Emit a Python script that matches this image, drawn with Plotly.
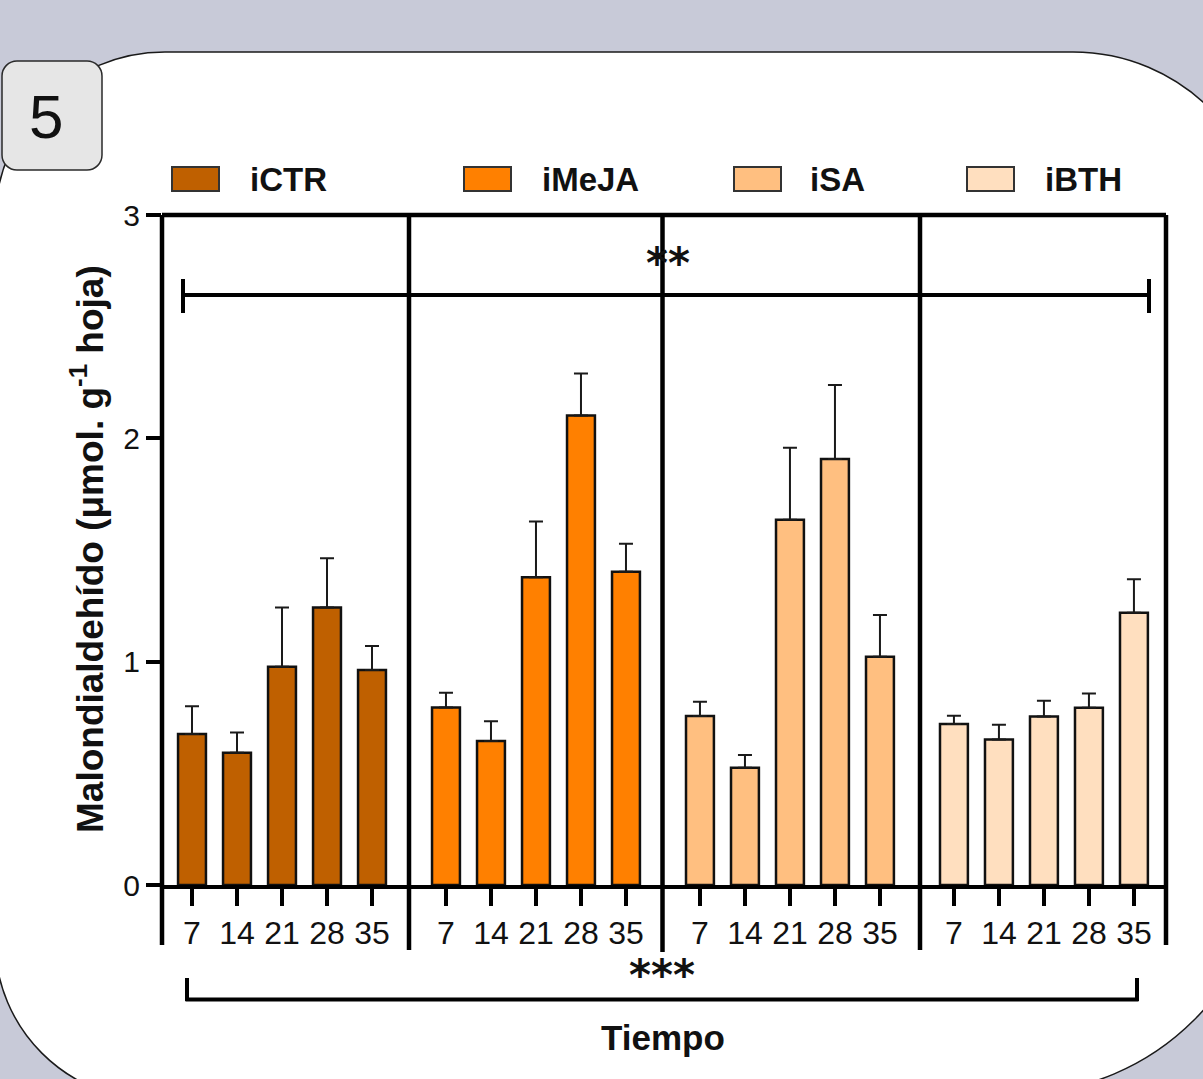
import plotly.graph_objects as go

# ---------------- data ----------------
days = ["7", "14", "21", "28", "35"]
treatments = ["iCTR", "iMeJA", "iSA", "iBTH"]
colors = ["#BF6000", "#FF8000", "#FFBF80", "#FFDFBF"]

mda_ictr = [0.676, 0.592, 0.977, 1.243, 0.963]
mda_imeja = [0.795, 0.645, 1.378, 2.102, 1.403]
mda_isa = [0.757, 0.525, 1.636, 1.907, 1.022]
mda_ibth = [0.721, 0.652, 0.754, 0.794, 1.219]

err_ictr = [0.124, 0.091, 0.266, 0.220, 0.107]
err_imeja = [0.066, 0.088, 0.250, 0.188, 0.125]
err_isa = [0.064, 0.057, 0.322, 0.332, 0.187]
err_ibth = [0.037, 0.066, 0.071, 0.063, 0.150]

means = [mda_ictr, mda_imeja, mda_isa, mda_ibth]
errors = [err_ictr, err_imeja, err_isa, err_ibth]

# ---------------- layout geometry ----------------
W, H = 1203, 1079
ML, MR, MT, MB = 162, 37, 215, 194
PW = W - ML - MR
PH = H - MT - MB
GROUP_STEP = 5.644
X_MIN = -0.6667
X_MAX = X_MIN + PW / 45.0


def px(x):
    return (x - ML) / PW


def py(y):
    return (MT + PH - y) / PH


FONT = "Liberation Sans, Arial, sans-serif"

fig = go.Figure()
all_x, all_text = [], []
for g, (name, col, m, e) in enumerate(zip(treatments, colors, means, errors)):
    xs = [g * GROUP_STEP + i for i in range(len(days))]
    all_x += xs
    all_text += days
    fig.add_trace(go.Bar(
        x=xs, y=m, name=name, width=0.62,
        marker=dict(color=col, line=dict(color="#111111", width=2.5)),
        error_y=dict(type="data", symmetric=False, array=e,
                     arrayminus=[0] * len(e), thickness=2, width=7,
                     color="#1a1a1a"),
        showlegend=False,
    ))

shapes = []

# white rounded panel
k = 0.5523


def P(x, y):
    return f"{px(x):.5f},{py(y):.5f}"


panel = (
    f"M {P(-5, 222)} "
    f"C {P(-5, 222 - k * 170)} {P(165 - k * 170, 52)} {P(165, 52)} "
    f"L {P(1073, 52)} "
    f"C {P(1073 + k * 194, 52)} {P(1267, 246 - k * 194)} {P(1267, 246)} "
    f"L {P(1267, 843.5)} "
    f"C {P(1267, 843.5 + k * 250)} {P(1017 + k * 250, 1093.5)} {P(1017, 1093.5)} "
    f"L {P(155, 1100)} "
    f"C {P(155 - k * 160, 1100)} {P(-5, 940 + k * 160)} {P(-5, 940)} Z"
)
shapes.append(dict(type="path", path=panel, xref="paper", yref="paper",
                   fillcolor="white", line=dict(color="#1a1a1a", width=1.5),
                   layer="below"))

# "5" label box
r = 15
bx0, by0, bx1, by1 = 2, 61, 102, 170
box = (
    f"M {P(bx0, by0 + r)} "
    f"C {P(bx0, by0 + r - k * r)} {P(bx0 + r - k * r, by0)} {P(bx0 + r, by0)} "
    f"L {P(bx1 - r, by0)} "
    f"C {P(bx1 - r + k * r, by0)} {P(bx1, by0 + r - k * r)} {P(bx1, by0 + r)} "
    f"L {P(bx1, by1 - r)} "
    f"C {P(bx1, by1 - r + k * r)} {P(bx1 - r + k * r, by1)} {P(bx1 - r, by1)} "
    f"L {P(bx0 + r, by1)} "
    f"C {P(bx0 + r - k * r, by1)} {P(bx0, by1 - r + k * r)} {P(bx0, by1 - r)} Z"
)
shapes.append(dict(type="path", path=box, xref="paper", yref="paper",
                   fillcolor="#e6e6e6", line=dict(color="#2a2a2a", width=1.5),
                   layer="below"))

LW = 4.5
# top frame line
shapes.append(dict(type="line", xref="paper", yref="paper", x0=0, x1=1,
                   y0=1, y1=1, line=dict(color="black", width=LW)))
# left and right frame lines (extend below the axis)
for xp_, yb in [(ML, 945), (ML + PW, 945)]:
    shapes.append(dict(type="line", xref="paper", yref="paper",
                       x0=px(xp_), x1=px(xp_), y0=1, y1=py(yb),
                       line=dict(color="black", width=LW)))
# group dividers
for xd, yb in [(409, 950), (662.5, 952), (920, 950)]:
    shapes.append(dict(type="line", xref="paper", yref="paper",
                       x0=px(xd), x1=px(xd), y0=1, y1=py(yb),
                       line=dict(color="black", width=LW)))

# top significance bracket
shapes.append(dict(type="line", xref="paper", yref="paper",
                   x0=px(183), x1=px(1149), y0=py(295), y1=py(295),
                   line=dict(color="black", width=4)))
for xb in (183, 1149):
    shapes.append(dict(type="line", xref="paper", yref="paper",
                       x0=px(xb), x1=px(xb), y0=py(279), y1=py(313),
                       line=dict(color="black", width=4)))

# bottom significance bracket
shapes.append(dict(type="line", xref="paper", yref="paper",
                   x0=px(185.5), x1=px(1138.5), y0=py(999.5), y1=py(999.5),
                   line=dict(color="black", width=4)))
for xb in (187, 1137):
    shapes.append(dict(type="line", xref="paper", yref="paper",
                       x0=px(xb), x1=px(xb), y0=py(978), y1=py(1001),
                       line=dict(color="black", width=4)))

# legend swatches
legend_sw = [172, 464, 734, 967]
legend_tx = [248, 540, 808, 1043]
for xs0, col in zip(legend_sw, colors):
    shapes.append(dict(type="rect", xref="paper", yref="paper",
                       x0=px(xs0), x1=px(xs0 + 47), y0=py(167), y1=py(191),
                       fillcolor=col, line=dict(color="#333333", width=2)))

annotations = []
for xt, name in zip(legend_tx, treatments):
    annotations.append(dict(text=f"<b>{name}</b>", x=px(xt), y=py(180),
                            xref="paper", yref="paper", xanchor="left",
                            yanchor="middle", showarrow=False,
                            font=dict(family=FONT, size=33, color="#111111")))

annotations.append(dict(text="5", x=px(46), y=py(117), xref="paper",
                        yref="paper", xanchor="center", yanchor="middle",
                        showarrow=False,
                        font=dict(family=FONT, size=62, color="#111111")))

annotations.append(dict(text="<b>**</b>", x=px(668), y=py(263),
                        xref="paper", yref="paper", xanchor="center",
                        yanchor="middle", showarrow=False,
                        font=dict(family="DejaVu Sans, sans-serif", size=42,
                                  color="#111111")))
annotations.append(dict(text="<b>***</b>", x=px(662), y=py(975),
                        xref="paper", yref="paper", xanchor="center",
                        yanchor="middle", showarrow=False,
                        font=dict(family="DejaVu Sans, sans-serif", size=42,
                                  color="#111111")))

annotations.append(dict(text="<b>Tiempo</b>", x=px(663), y=py(1037),
                        xref="paper", yref="paper", xanchor="center",
                        yanchor="middle", showarrow=False,
                        font=dict(family=FONT, size=35, color="#111111")))

annotations.append(dict(text="<b>Malondialdehído (μmol. g<sup>-1</sup> hoja)</b>",
                        x=px(87), y=py(549), xref="paper", yref="paper",
                        xanchor="center", yanchor="middle", textangle=-90,
                        showarrow=False,
                        font=dict(family=FONT, size=37, color="#111111")))

fig.update_layout(
    width=W, height=H,
    margin=dict(l=ML, r=MR, t=MT, b=MB, pad=0),
    paper_bgcolor="#c8cad8",
    plot_bgcolor="rgba(0,0,0,0)",
    barmode="overlay",
    shapes=shapes,
    annotations=annotations,
    showlegend=False,
    font=dict(family=FONT, color="#111111"),
)
fig.update_xaxes(
    range=[X_MIN, X_MAX], tickmode="array", tickvals=all_x, ticktext=all_text,
    showgrid=False, zeroline=False, showline=True, linecolor="black",
    linewidth=4, ticks="outside", ticklen=17, tickwidth=3.5, tickcolor="black",
    tickfont=dict(family=FONT, size=32, color="#111111"),
)
fig.update_yaxes(
    range=[0, 3], tickmode="array", tickvals=[0, 1, 2, 3],
    ticktext=["0", "1", "2", "3"],
    showgrid=False, zeroline=False, showline=False, ticks="outside",
    ticklen=15, tickwidth=4, tickcolor="black",
    tickfont=dict(family=FONT, size=30, color="#111111"),
)

fig.write_html("out.html")
